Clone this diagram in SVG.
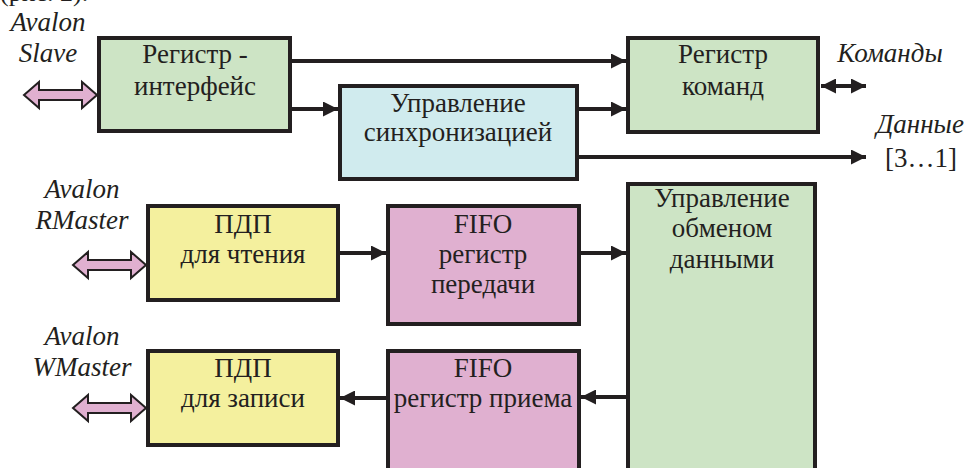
<svg xmlns="http://www.w3.org/2000/svg" width="966" height="468" viewBox="0 0 966 468" font-family="'Liberation Serif', 'DejaVu Serif', serif">
<style>
.box{stroke:#231f20;stroke-width:4}
.g{fill:#cde4c5}.c{fill:#d0ebee}.y{fill:#f4f09e}.p{fill:#e0b0d0}
text{font-family:'Liberation Serif','DejaVu Serif',serif;font-size:27px;fill:#231f20}
.t{text-anchor:middle}
.i{font-style:italic;text-anchor:middle}
.ln{stroke:#231f20;stroke-width:4;fill:none}
.fat{fill:#e0b0d0;stroke:#231f20;stroke-width:2;stroke-linejoin:miter}
</style>
<defs>
<marker id="ah" markerUnits="userSpaceOnUse" markerWidth="15" markerHeight="15" refX="15" refY="7.5" orient="auto-start-reverse">
<path d="M0,0 L15,7.5 L0,15 Z" fill="#231f20"/>
</marker>
<path id="fatarrow" d="M0,0 L15,-13 L15,-5 L58,-5 L58,-13 L73,0 L58,13 L58,5 L15,5 L15,13 Z"/>
</defs>
<rect width="966" height="468" fill="#ffffff"/>
<text x="0" y="1" style="font-size:26px">(рис. 2).</text>

<g id="connectors">
<line class="ln" x1="292" y1="61" x2="626" y2="61" marker-end="url(#ah)"/>
<line class="ln" x1="292" y1="109" x2="338" y2="109" marker-end="url(#ah)"/>
<line class="ln" x1="579" y1="109" x2="626" y2="109" marker-end="url(#ah)"/>
<line class="ln" x1="579" y1="157" x2="866" y2="157" marker-end="url(#ah)"/>
<line class="ln" x1="821" y1="86" x2="866" y2="86" marker-start="url(#ah)" marker-end="url(#ah)"/>
<line class="ln" x1="340" y1="253" x2="386" y2="253" marker-end="url(#ah)"/>
<line class="ln" x1="581" y1="253" x2="626" y2="253" marker-end="url(#ah)"/>
<line class="ln" x1="626" y1="397" x2="581" y2="397" marker-end="url(#ah)"/>
<line class="ln" x1="386" y1="398" x2="340" y2="398" marker-end="url(#ah)"/>
<use href="#fatarrow" class="fat" x="24" y="95"/>
<use href="#fatarrow" class="fat" x="73" y="265"/>
<use href="#fatarrow" class="fat" x="73" y="408"/>
</g>

<g id="labels">
<text class="i" x="48" y="31">Avalon</text>
<text class="i" x="48" y="62">Slave</text>
<text class="i" x="82" y="198">Avalon</text>
<text class="i" x="82" y="229">RMaster</text>
<text class="i" x="82" y="345">Avalon</text>
<text class="i" x="82" y="376">WMaster</text>
<text class="i" x="890" y="62">Команды</text>
<text class="i" x="920" y="133">Данные</text>
<text class="t" x="921" y="167">[3…1]</text>
</g>

<g id="reg-interface">
<rect class="box g" x="99" y="38" width="191" height="93"/>
<text class="t" x="195" y="63">Регистр -</text>
<text class="t" x="195" y="95">интерфейс</text>
</g>
<g id="reg-commands">
<rect class="box g" x="628" y="38" width="190" height="94"/>
<text class="t" x="723" y="63">Регистр</text>
<text class="t" x="723" y="95">команд</text>
</g>
<g id="sync-control">
<rect class="box c" x="340" y="86" width="237" height="93"/>
<text class="t" x="458" y="112">Управление</text>
<text class="t" x="458" y="141">синхронизацией</text>
</g>
<g id="dma-read">
<rect class="box y" x="148" y="206" width="190" height="94"/>
<text class="t" x="243" y="233">ПДП</text>
<text class="t" x="243" y="263">для чтения</text>
</g>
<g id="fifo-tx">
<rect class="box p" x="388" y="206" width="191" height="118"/>
<text class="t" x="483" y="233">FIFO</text>
<text class="t" x="483" y="263">регистр</text>
<text class="t" x="483" y="293">передачи</text>
</g>
<g id="exchange-control">
<rect class="box g" x="628" y="184" width="187" height="300"/>
<text class="t" x="722" y="207">Управление</text>
<text class="t" x="722" y="237">обменом</text>
<text class="t" x="722" y="268">данными</text>
</g>
<g id="dma-write">
<rect class="box y" x="148" y="351" width="190" height="94"/>
<text class="t" x="243" y="377">ПДП</text>
<text class="t" x="243" y="407">для записи</text>
</g>
<g id="fifo-rx">
<rect class="box p" x="388" y="351" width="191" height="130"/>
<text class="t" x="483" y="377">FIFO</text>
<text class="t" x="483" y="407">регистр приема</text>
</g>
</svg>
